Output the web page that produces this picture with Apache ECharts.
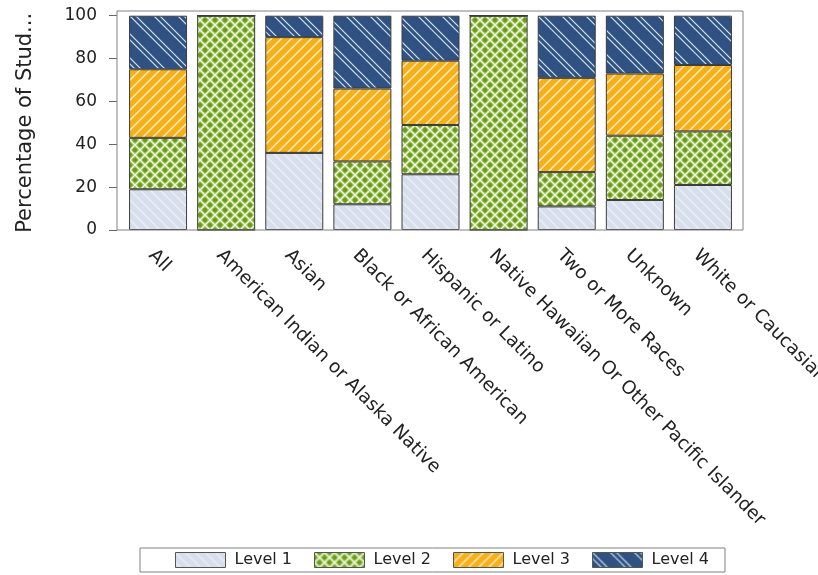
<!DOCTYPE html>
<html>
<head>
<meta charset="utf-8">
<script src="https://cdn.jsdelivr.net/npm/echarts@6/dist/echarts.min.js"></script>
<style>
html,body{margin:0;padding:0;background:#fff;}
#chart{width:818px;height:575px;}
</style>
</head>
<body>
<div id="chart"></div>
<script>
const categories = ['All', 'American Indian or Alaska Native', 'Asian', 'Black or African American', 'Hispanic or Latino', 'Native Hawaiian Or Other Pacific Islander', 'Two or More Races', 'Unknown', 'White or Caucasian'];
const level1 = [19, 0, 36, 12, 26, 0, 11, 14, 21];
const level2 = [24, 100, 0, 20, 23, 100, 16, 30, 25];
const level3 = [32, 0, 54, 34, 30, 0, 44, 29, 31];
const level4 = [25, 0, 10, 34, 21, 0, 29, 27, 23];
const seriesNames = ['Level 1', 'Level 2', 'Level 3', 'Level 4'];
const yTicks = [0, 20, 40, 60, 80, 100];
const yTitle = 'Percentage of Stud...';

function makePattern(size, draw) {
  const c = document.createElement('canvas');
  c.width = size; c.height = size;
  const ctx = c.getContext('2d');
  draw(ctx, size);
  return { image: c, repeat: 'repeat' };
}
function back(ctx, s, k) { ctx.beginPath(); ctx.moveTo(-1, k - 1); ctx.lineTo(s + 1, s + k + 1); ctx.stroke(); }
function fwd(ctx, s, k) { ctx.beginPath(); ctx.moveTo(-1, k + 1); ctx.lineTo(s + 1, k - s - 1); ctx.stroke(); }

const pat1 = makePattern(10, (ctx, s) => {
  ctx.fillStyle = '#d8dfec'; ctx.fillRect(0, 0, s, s);
  ctx.strokeStyle = '#eaeef6'; ctx.lineWidth = 1.5;
  [-s, 0, s].forEach(k => back(ctx, s, k));
});
const pat2 = makePattern(10, (ctx, s) => {
  ctx.fillStyle = '#8fbd3c'; ctx.fillRect(0, 0, s, s);
  ctx.fillStyle = '#67981f';
  [[s / 2, 0], [s / 2, s], [0, s / 2], [s, s / 2]].forEach(p => { ctx.beginPath(); ctx.arc(p[0], p[1], 2, 0, Math.PI * 2); ctx.fill(); });
  ctx.strokeStyle = 'rgba(255,255,255,0.9)'; ctx.lineWidth = 1.4;
  [-s, 0, s].forEach(k => back(ctx, s, k));
  [0, s, 2 * s].forEach(k => fwd(ctx, s, k));
});
const pat3 = makePattern(10, (ctx, s) => {
  ctx.fillStyle = '#f7b018'; ctx.fillRect(0, 0, s, s);
  ctx.strokeStyle = 'rgba(255,245,220,0.9)'; ctx.lineWidth = 1.4;
  [0, s, 2 * s].forEach(k => fwd(ctx, s, k));
});
const pat4 = makePattern(24, (ctx, s) => {
  ctx.fillStyle = '#2f5282'; ctx.fillRect(0, 0, s, s);
  ctx.strokeStyle = '#d4e2f4'; ctx.lineWidth = 1.2;
  [-s, 0, s].forEach(k => { back(ctx, s, k); back(ctx, s, k + 6); });
});
const patterns = [pat1, pat2, pat3, pat4];
const values = [level1, level2, level3, level4];

const FONT = 'DejaVu Sans';
const TXT = '#222';

const chart = echarts.init(document.getElementById('chart'), null, { renderer: 'canvas' });
chart.setOption({
  animation: false,
  backgroundColor: '#fff',
  textStyle: { fontFamily: FONT },
  grid: [
    { left: 124, right: 81, top: 15.7, bottom: 345, containLabel: false, outerBoundsMode: 'none' },
    { left: 117, right: 75, top: 11, bottom: 345, containLabel: false, outerBoundsMode: 'none', show: true, borderColor: '#808080', borderWidth: 1, backgroundColor: 'transparent', z: 5 }
  ],
  legend: {
    data: seriesNames,
    left: 140, top: 548,
    orient: 'horizontal',
    icon: 'rect',
    itemWidth: 50, itemHeight: 15, itemGap: 22,
    padding: [4, 16, 4, 35],
    borderColor: '#808080', borderWidth: 1,
    textStyle: { fontFamily: FONT, fontSize: 16, color: TXT, padding: [0, 0, 0, 4] },
    itemStyle: { borderColor: '#555', borderWidth: 1 }
  },
  xAxis: [
    {
      type: 'category', gridIndex: 0, data: categories,
      axisLine: { show: false }, axisTick: { show: false },
      axisLabel: { interval: 0, rotate: -45, align: 'left', verticalAlign: 'top', margin: 16, fontFamily: FONT, fontSize: 18.5, color: TXT }
    },
    { type: 'category', gridIndex: 1, show: false, data: categories }
  ],
  yAxis: [
    {
      type: 'value', gridIndex: 0, min: 0, max: 100, interval: 20, offset: 7,
      name: yTitle, nameLocation: 'middle', nameGap: 81,
      nameTextStyle: { fontFamily: FONT, fontSize: 21, color: TXT },
      axisLine: { show: false },
      axisTick: { show: true, length: 8, lineStyle: { color: '#666' } },
      axisLabel: { margin: 20, fontFamily: FONT, fontSize: 17, color: TXT,
        formatter: v => (yTicks.indexOf(v) >= 0 ? String(v) : '') },
      splitLine: { show: false }
    },
    { type: 'value', gridIndex: 1, show: false, min: 0, max: 100 }
  ],
  series: seriesNames.map((name, i) => ({
    name: name,
    type: 'bar',
    stack: 'total',
    xAxisIndex: 0, yAxisIndex: 0,
    barWidth: 58,
    data: values[i],
    itemStyle: { color: patterns[i], borderColor: '#3c3c3c', borderWidth: 1 },
    emphasis: { disabled: true }
  }))
});
</script>
</body>
</html>
